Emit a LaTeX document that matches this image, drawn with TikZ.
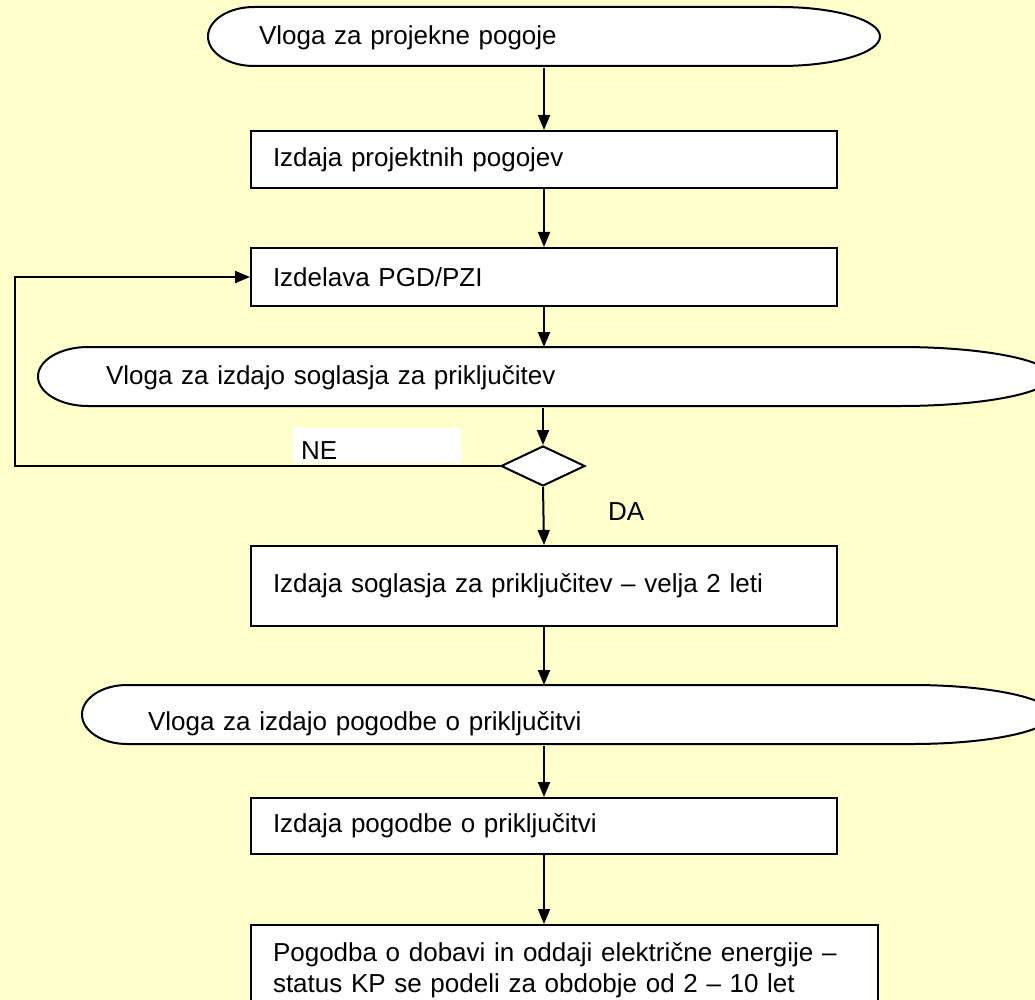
\documentclass[tikz,border=0pt]{standalone}
\usepackage{fontspec}
\setmainfont{Liberation Sans}
\usetikzlibrary{positioning, shapes.geometric, arrows.meta, backgrounds}
\definecolor{paleyellow}{RGB}{255,255,204}
\newcommand{\ovaloutline}[5]{%
    \filldraw[fill=white, line width=2pt] (#1,#3) -- (#2,#3)
        arc[start angle=90, end angle=-90, x radius=#5pt, y radius=29.5pt]
        -- (#1,#3+59)
        arc[start angle=270, end angle=90, x radius=#4pt, y radius=29.5pt] -- cycle;}

\begin{document}
\begin{tikzpicture}[x=1pt, y=-1pt, ->, >={Triangle[length=15pt, width=12pt]}, line width=2pt,
        every node/.style={font=\fontsize{26}{31}\selectfont},
        main box/.style={rectangle, draw, fill=white, anchor=north west, minimum width=586pt,
            minimum height=57pt, text width=542pt, inner xsep=22pt, align=left},
        oval node/.style={rectangle, anchor=north west, minimum height=59pt, inner ysep=0pt,
            align=left}]
        \useasboundingbox (0,0) rectangle (1035,1000);

        \node[oval node, inner xsep=4pt, text width=518pt] (vloga1) at (254,7) {Vloga za projekne pogoje};
        \node[main box] (pogoji) at (250,130) {Izdaja projektnih pogojev};
        \node[main box, minimum height=58pt] (pgd) at (250,247) {Izdelava PGD/PZI};
        \node[oval node, inner xsep=17pt, text width=778pt] (vloga2) at (88,347) {Vloga za izdajo soglasja za priključitev};
        \node[diamond, draw, fill=white, minimum width=84pt, minimum height=40pt, inner sep=0pt,
            aspect=2.1] (dec) at (543,466) {};
        \node[main box, minimum height=80pt] (soglasje) at (250,545) {Izdaja soglasja za priključitev – velja 2 leti};
        \node[oval node, inner xsep=20pt, text width=745pt, text height=30pt, text depth=0pt] (vloga3) at (127,685)
            {Vloga za izdajo pogodbe o priključitvi};
        \node[main box, minimum height=56pt] (pogodba) at (250,797) {Izdaja pogodbe o priključitvi};
        \node[main box, minimum width=627pt, text width=583pt, minimum height=90pt] (dobava) at (250,924)
            {Pogodba o dobavi in oddaji električne energije –\\status KP se podeli za obdobje od 2 – 10 let};
        \node[fill=white, anchor=south west, minimum width=168pt, minimum height=35pt, inner xsep=8pt,
            text width=152pt, align=left, text height=27pt, text depth=0pt] (ne) at (292,464) {NE};
        \node[anchor=west, inner sep=0pt] (da) at (607,512) {DA};
        \coordinate (lft) at (15,0);

        \draw (vloga1.south -| pogoji.north) -- (pogoji.north);
        \draw (pogoji) -- (pgd);
        \draw (pgd.south) -- (pgd.south |- vloga2.north);
        \draw (dec.north |- vloga2.south) -- (dec.north);
        \draw (dec.south) -- (soglasje.north);
        \draw (soglasje.south) -- (soglasje.south |- vloga3.north);
        \draw (pogodba.north |- vloga3.south) -- (pogodba.north);
        \draw (pogodba.south) -- (pogodba.south |- dobava.north);
        \draw (dec.west) -- (dec.west -| lft) |- (pgd.west);

        \begin{scope}[on background layer, -]
            \fill[paleyellow] (0,0) rectangle (1035,1000);
            \ovaloutline{254}{780}{7}{46}{100}
            \ovaloutline{88}{900}{347}{50}{151}
            \ovaloutline{127}{912}{685}{45}{140}
        \end{scope}
    \end{tikzpicture}
\end{document}
